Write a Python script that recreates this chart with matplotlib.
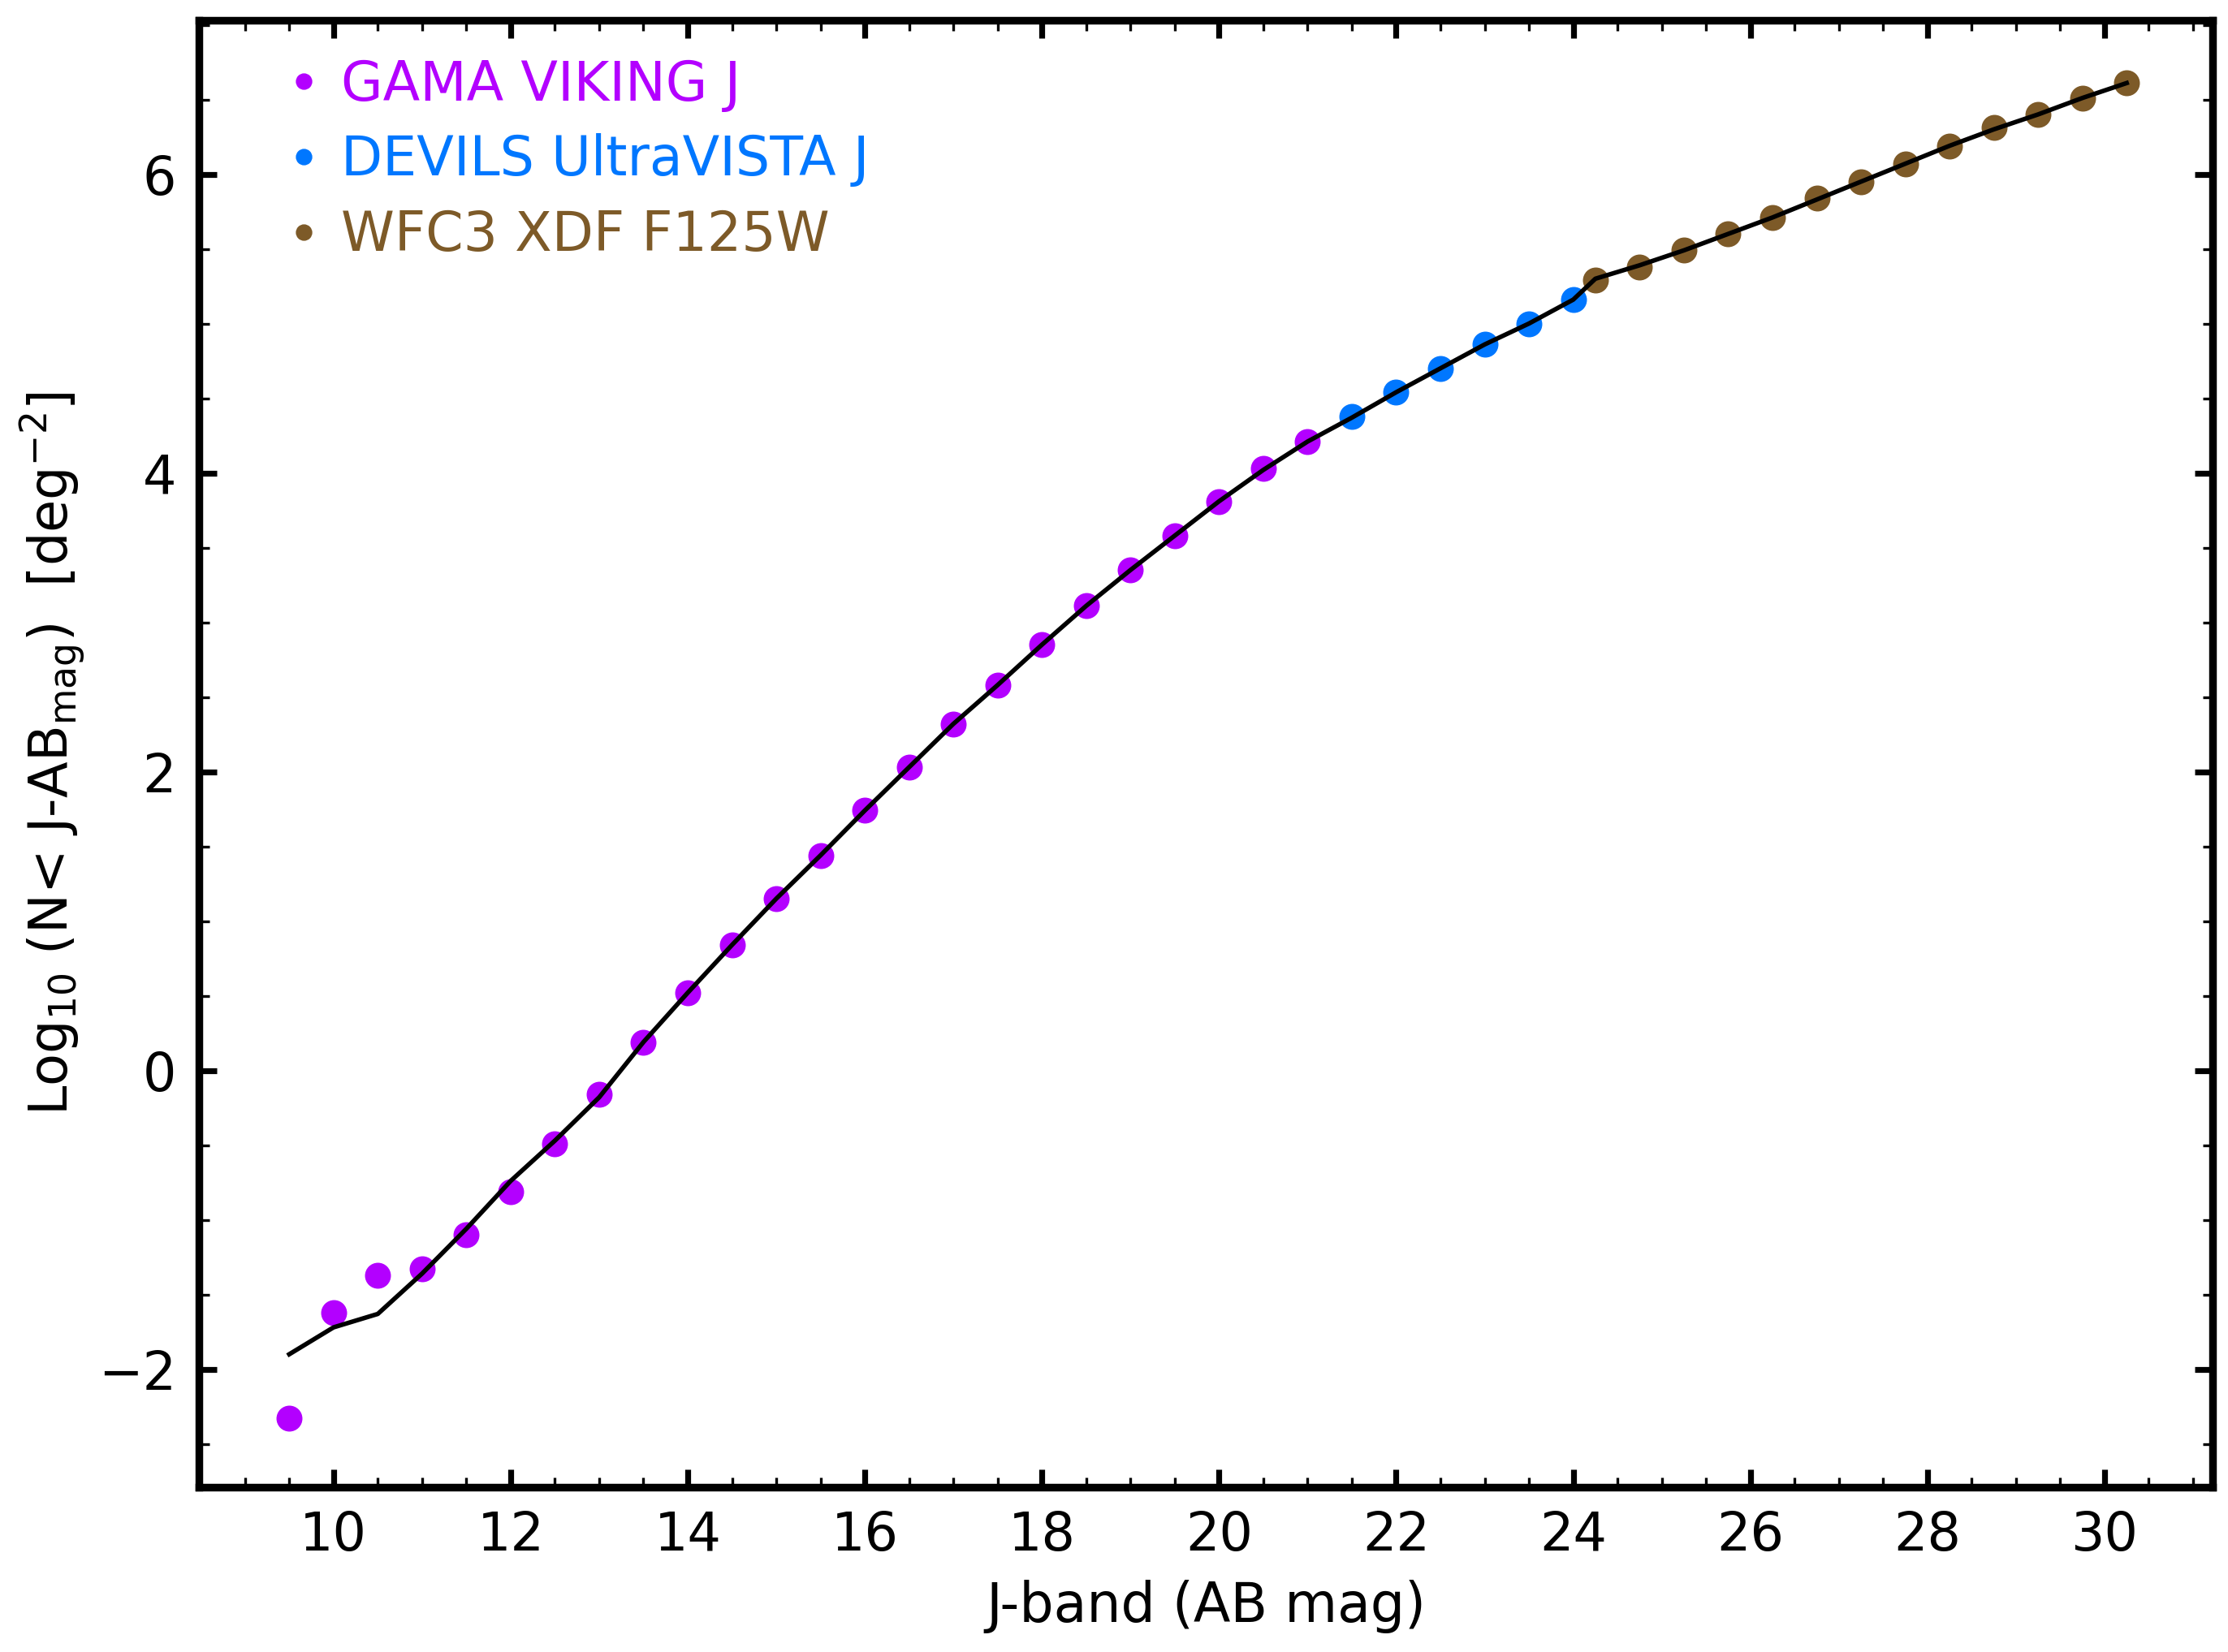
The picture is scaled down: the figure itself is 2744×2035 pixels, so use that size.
import numpy as np
import matplotlib.pyplot as plt
from matplotlib.ticker import MultipleLocator

# GAMA VIKING J
gama_mag = [9.5, 10.0, 10.5, 11.0, 11.5, 12.0, 12.5, 13.0, 13.5, 14.0, 14.5, 15.0,
            15.5, 16.0, 16.5, 17.0, 17.5, 18.0, 18.5, 19.0, 19.5, 20.0, 20.5, 21.0]
gama_logn = [-2.33, -1.62, -1.37, -1.33, -1.10, -0.81, -0.49, -0.16, 0.19, 0.52, 0.84, 1.15,
             1.44, 1.74, 2.03, 2.32, 2.58, 2.85, 3.11, 3.35, 3.58, 3.81, 4.03, 4.21]

# DEVILS UltraVISTA J
devils_mag = [21.5, 22.0, 22.5, 23.0, 23.5, 24.0]
devils_logn = [4.38, 4.54, 4.70, 4.86, 5.00, 5.16]

# WFC3 XDF F125W
xdf_mag = [24.25, 24.75, 25.25, 25.75, 26.25, 26.75, 27.25, 27.75, 28.25, 28.75,
           29.25, 29.75, 30.25]
xdf_logn = [5.29, 5.38, 5.49, 5.60, 5.71, 5.84, 5.95, 6.07, 6.19, 6.31,
            6.40, 6.51, 6.61]

# black line (model)
line_mag = [9.5, 10.0, 10.5, 11.0, 11.5, 12.0, 12.5, 13.0, 13.5, 14.0, 14.5, 15.0,
            15.5, 16.0, 16.5, 17.0, 17.5, 18.0, 18.5, 19.0, 19.5, 20.0, 20.5, 21.0,
            21.5, 22.0, 22.5, 23.0, 23.5, 24.0, 24.25, 24.75, 25.25, 25.75, 26.25,
            26.75, 27.25, 27.75, 28.25, 28.75, 29.25, 29.75, 30.25]
line_logn = [-1.90, -1.72, -1.63, -1.36, -1.06, -0.74, -0.47, -0.18, 0.19, 0.52, 0.84, 1.15,
             1.44, 1.74, 2.03, 2.32, 2.58, 2.85, 3.11, 3.35, 3.58, 3.81, 4.02, 4.21,
             4.37, 4.54, 4.70, 4.86, 5.00, 5.16, 5.30, 5.39, 5.49, 5.60, 5.71,
             5.83, 5.95, 6.07, 6.19, 6.30, 6.40, 6.51, 6.61]

c_gama = '#b300ff'
c_devils = '#0077ff'
c_xdf = '#7d5a28'

plt.rcParams['font.family'] = 'DejaVu Sans'
plt.rcParams['mathtext.default'] = 'regular'

fig = plt.figure(figsize=(13.72, 10.175), dpi=200)
ax = fig.add_axes([245/2744, 1-1832/2035, (2725-245)/2744, (1832-25)/2035])

ax.plot(line_mag, line_logn, color='black', lw=2, zorder=3)
ax.plot(gama_mag, gama_logn, 'o', color=c_gama, ms=10.5, label='GAMA VIKING J', zorder=2)
ax.plot(devils_mag, devils_logn, 'o', color=c_devils, ms=10.5, label='DEVILS UltraVISTA J', zorder=2)
ax.plot(xdf_mag, xdf_logn, 'o', color=c_xdf, ms=10.5, label='WFC3 XDF F125W', zorder=2)

ax.set_xlim(8.48, 31.22)
ax.set_ylim(-2.79, 7.03)
ax.xaxis.set_major_locator(MultipleLocator(2))
ax.xaxis.set_minor_locator(MultipleLocator(0.5))
ax.yaxis.set_major_locator(MultipleLocator(2))
ax.yaxis.set_minor_locator(MultipleLocator(0.5))
ax.tick_params(which='both', direction='in', top=True, right=True, labelsize=23.5)
ax.tick_params(which='major', length=8, width=2.6, pad=10)
ax.tick_params(which='minor', length=4.5, width=1.2)
for s in ax.spines.values():
    s.set_linewidth(3.4)

ax.set_xlabel('J-band (AB mag)', fontsize=24, labelpad=8)
ax.set_ylabel(r'Log$_{10}$ (N< J-AB$_{mag}$)  [deg$^{-2}$]', fontsize=23.5, labelpad=5)

leg = ax.legend(loc='upper left', frameon=False, fontsize=24, markerscale=0.6,
                handlelength=0.6, handletextpad=0.4, labelspacing=0.4,
                borderaxespad=0.3, bbox_to_anchor=(0.025, 1.0))
for txt, col in zip(leg.get_texts(), [c_gama, c_devils, c_xdf]):
    txt.set_color(col)

fig.savefig('out.png', dpi=200)
